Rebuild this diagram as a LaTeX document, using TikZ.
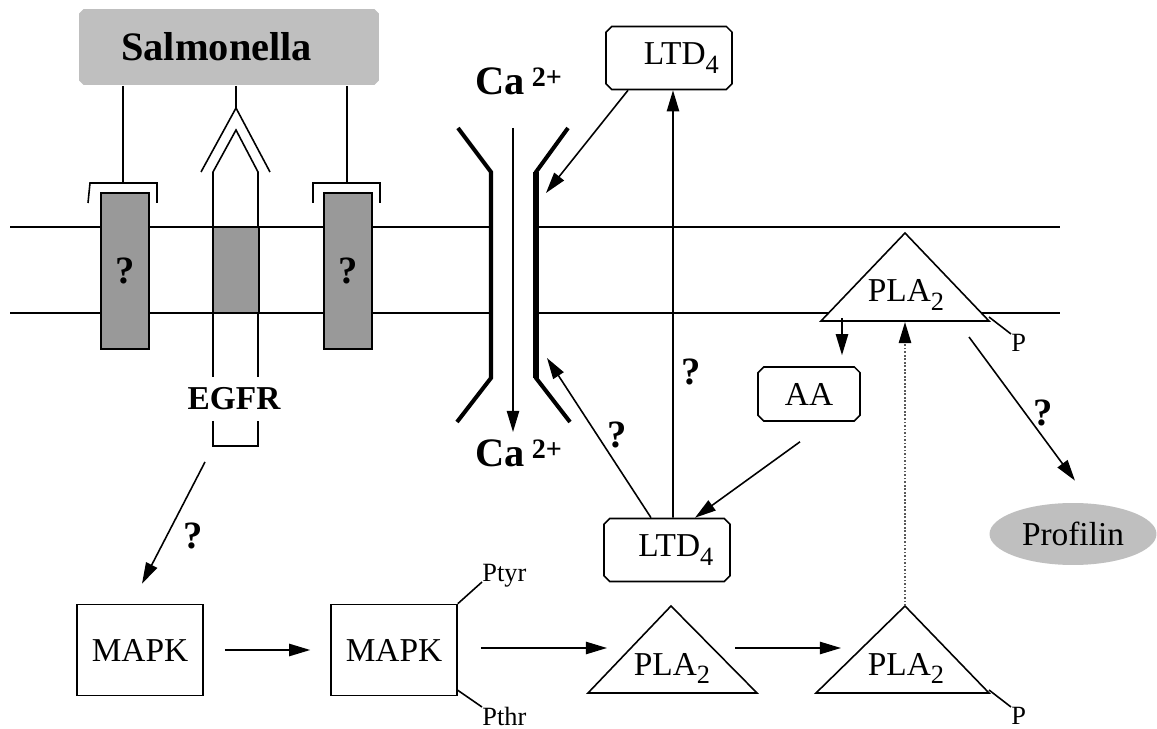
\documentclass[tikz,border=0pt]{standalone}
\usepackage{fontspec}
\setmainfont{Liberation Serif}
\usetikzlibrary{shapes.misc, shapes.geometric, arrows.meta, calc}

\newcommand{\lowsub}[1]{\raisebox{-5pt}{\fontsize{15pt}{15pt}\selectfont #1}}
\newcommand{\highsup}[1]{\raisebox{5pt}{\fontsize{16pt}{16pt}\selectfont\bfseries #1}}

\begin{document}
\begin{tikzpicture}[
		x=0.02cm, y=-0.02cm,
		conn/.style={line width=0.9pt},
		arrow/.style={
			-{Triangle[length=12pt, width=7pt]}, 
			line width=0.9pt
		},
		dotarrow/.style={
			-{Triangle[length=12pt, width=7pt, color=black]}, 
			densely dotted, 
			draw=black!65, 
			line width=1pt
		},
		wall/.style={line width=2.3pt},
		tri/.style={draw, fill=white, line width=0.9pt},
		box/.style={
			rectangle, 
			draw, 
			line width=0.9pt, 
			minimum width=2.52cm, 
			minimum height=1.82cm, 
			font=\fontsize{19pt}{22pt}\selectfont
		},
		chbox/.style={
			chamfered rectangle, 
			chamfered rectangle xsep=1.6pt, 
			chamfered rectangle ysep=1.6pt, 
			draw, 
			line width=0.9pt, 
			inner sep=0pt, 
			font=\fontsize{19pt}{22pt}\selectfont
		},
		recbox/.style={
			rectangle, 
			draw, 
			fill=black!40, 
			line width=0.9pt, 
			minimum width=0.95cm, 
			minimum height=3.12cm, 
			font=\fontsize{22pt}{24pt}\selectfont\bfseries
		},
		txt/.style={inner sep=0pt, font=\fontsize{19pt}{22pt}\selectfont},
		ptxt/.style={inner sep=0pt, font=\fontsize{15pt}{17pt}\selectfont},
		qmark/.style={inner sep=0pt, font=\fontsize{22pt}{24pt}\selectfont\bfseries},
		catext/.style={inner sep=0pt, font=\fontsize{23pt}{25pt}\selectfont\bfseries}
		]
		
		\useasboundingbox (0,0) rectangle (1157,729);
		
		% Membrane
		\draw[conn] (10,227) -- (491,227) (536,227) -- (1060,227);
		\draw[conn] (10,313) -- (491,313) (536,313) -- (1060,313);
		
		% Salmonella and receptors
		\node[chbox, chamfered rectangle xsep=1.3pt, chamfered rectangle ysep=1.3pt, fill=black!25, draw=none, minimum width=6cm, minimum height=1.52cm, font=\fontsize{23pt}{25pt}\selectfont\bfseries] (salm) at (229,47) {\hspace*{-14pt}Salmonella};
		
		\coordinate (br1) at (123,183);
		\coordinate (br2) at (347,183);
		\draw[conn] (salm.south -| br1) -- (br1);
		\draw[conn] (salm.south -| br2) -- (br2);
		\draw[conn] (88,203) -- (90,183) -- (157,183) -- (157,203);
		\draw[conn] (313,203) -- (313,183) -- (380,183) -- (380,203);
		\node[recbox] (rec1) at (125,271) {?};
		\node[recbox] (rec2) at (348,271) {?};
		
		% EGFR
		\coordinate (egfrTop) at (236,108);
		\coordinate (egfrBot) at (236,446);
		\draw[conn] (salm.south -| egfrTop) -- (egfrTop);
		\draw[conn] (201,172) -- (egfrTop) -- (270,172);
		\draw[conn] (213,377) -- (213,172) -- (236,130) -- (258,172) -- (258,377);
		\draw[conn] (213,421) -- (213,446) -- (258,446) -- (258,421);
		\node[rectangle, draw, fill=black!40, line width=0.9pt, minimum width=0.92cm, minimum height=1.72cm] (egfr) at (236,270) {};
		\node[txt, font=\fontsize{19pt}{22pt}\selectfont\bfseries] (egfrLab) at (234,399) {EGFR};
		
		% Ca channel
		\draw[wall] (458,128) -- (491,172) -- (491,378) -- (457,422);
		\draw[wall] (568,128) -- (536,172) -- (536,378) -- (570,422);
		\draw[wall, line width=3.4pt] (536,172) -- (536,378);
		\coordinate (chanIn) at (513,128);
		\coordinate (chanOut) at (513,432);
		\draw[arrow] (chanIn) -- (chanOut);
		\node[catext, anchor=base west] (caIn) at (475,95) {Ca\hspace{4pt}\highsup{2+}};
		\node[catext, anchor=base west] (caOut) at (475,467) {Ca\hspace{4pt}\highsup{2+}};
		
		% LTD4 and AA
		\node[chbox, minimum width=2.52cm, minimum height=1.26cm] (ltdTop) at (669,58) {\hspace*{14pt}LTD\lowsub{4}};
		\node[chbox, minimum width=2.52cm, minimum height=1.26cm] (ltdBot) at (667,550) {\hspace*{10pt}LTD\lowsub{4}};
		\node[chbox, minimum width=2.04cm, minimum height=1.08cm] (aa) at (809,394) {AA};
		
		\coordinate (wallA) at (546,193);
		\coordinate (wallB) at (547,358);
		\draw[arrow] ([xshift=-0.82cm]ltdTop.south) -- (wallA);
		\draw[arrow] ([xshift=0.12cm]ltdBot.north) -- ([xshift=0.08cm]ltdTop.south);
		\draw[arrow] ([xshift=-0.32cm]ltdBot.north) -- (wallB);
		\draw[arrow] ($(aa.south)+(-9,20)$) -- ([xshift=0.56cm]ltdBot.north);
		\node[qmark] (q4) at (617,435) {?};
		\node[qmark] (q5) at (691,372) {?};
		
		% PLA2 in the membrane
		\draw[tri] (821,321) -- (905,233) -- (989,321) -- cycle;
		\node[txt, anchor=base] (plaTop) at (906,302) {PLA\lowsub{2}};
		\coordinate (pTop) at (989,317);
		\node[ptxt, anchor=north west] (pTopLab) at (1011,334) {P};
		\draw[conn] (pTop) -- (pTopLab.north west);
		\coordinate (plaTopR) at (969,337);
		\draw[arrow] (842,318) -- ($(aa.north)+(33,-11)$);
		
		% Profilin
		\node[ellipse, fill=black!25, minimum width=3.34cm, minimum height=1.24cm, font=\fontsize{19pt}{22pt}\selectfont] (prof) at (1073,534) {Profilin};
		\draw[arrow] (plaTopR) -- ($(prof.north)+(2,-22)$);
		\node[qmark] (q6) at (1043,413) {?};
		
		% MAPK row
		\node[box] (mapk1) at (140,650) {MAPK};
		\node[box] (mapk2) at (394,650) {MAPK};
		\draw[arrow] ($(egfrBot)+(-31,16)$) -- ($(mapk1.north)+(2,-20)$);
		\node[qmark] (q3) at (193,536) {?};
		\draw[arrow, shorten <=0.42cm, shorten >=0.4cm] (mapk1) -- (mapk2);
		
		\node[ptxt, anchor=base west] (ptyr) at (482,582) {Ptyr};
		\node[ptxt, anchor=north west] (pthr) at (482,707) {Pthr};
		\draw[conn] (mapk2.north east) -- (ptyr.base west);
		\draw[conn] ($(mapk2.south east)+(0,-6)$) -- (pthr.north west);
		
		% PLA2 row
		\coordinate (pla1in) at (607,648);
		\coordinate (pla1out) at (735,648);
		\coordinate (pla2in) at (841,648);
		\coordinate (apex2) at (905,606);
		\coordinate (base3) at (905,322);
		\draw[tri] (588,693) -- (671,606) -- (757,693) -- cycle;
		\draw[tri] (816,693) -- (apex2) -- (989,693) -- cycle;
		\node[txt, anchor=base] (pla1) at (672,675) {PLA\lowsub{2}};
		\node[txt, anchor=base] (pla2) at (906,675) {PLA\lowsub{2}};
		\draw[arrow] ($(mapk2.east)+(23,-2)$) -- (pla1in);
		\draw[arrow] (pla1out) -- (pla2in);
		\draw[dotarrow] (apex2) -- (base3);
		
		\coordinate (pBot) at (989,690);
		\node[ptxt, anchor=north west] (pBotLab) at (1011,707) {P};
		\draw[conn] (pBot) -- (pBotLab.north west);
		
	\end{tikzpicture}
\end{document}
